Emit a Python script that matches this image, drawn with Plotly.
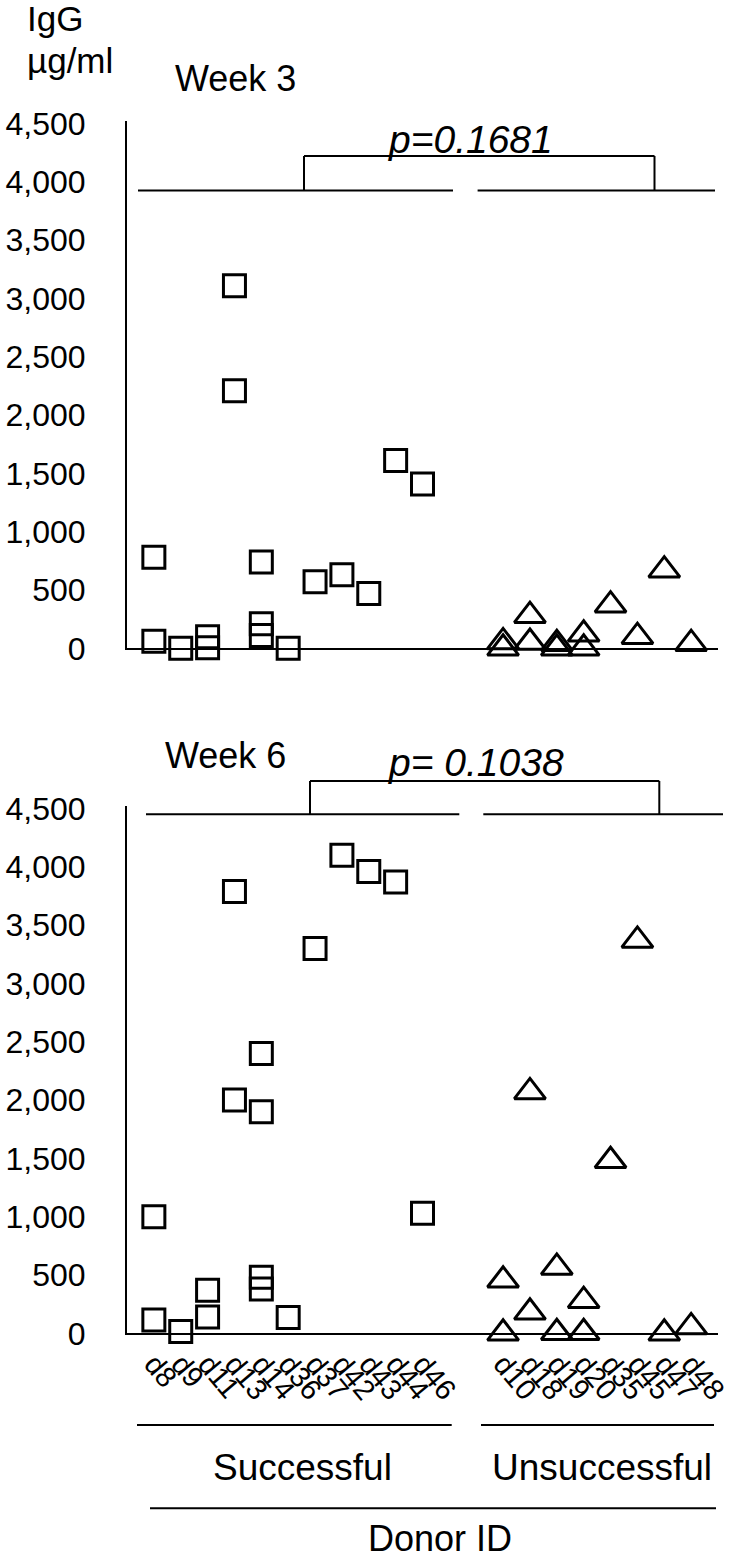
import plotly.graph_objects as go

# ---------------- data ----------------
succ_ids = ["d8", "d9", "d11", "d13", "d14", "d36", "d37", "d42", "d43", "d44", "d46"]
unsucc_ids = ["d10", "d18", "d19", "d20", "d35", "d45", "d47", "d48"]
gap_cats = [" ", "  "]

w3_succ_donor = ["d8", "d8", "d9", "d11", "d11", "d13", "d13", "d14", "d14", "d14",
                 "d36", "d37", "d42", "d43", "d44", "d46"]
w3_succ_val = [780, 60, 0, 100, 5, 3110, 2210, 740, 210, 110, 0, 570, 630, 470, 1610, 1410]

w3_uns_donor = ["d10", "d10", "d18", "d18", "d19", "d19", "d20", "d20", "d35", "d45", "d47", "d48"]
w3_uns_val = [55, 0, 280, 50, 40, 0, 120, 0, 370, 100, 670, 40]

w6_succ_donor = ["d8", "d8", "d9", "d11", "d11", "d13", "d13", "d14", "d14", "d14", "d14",
                 "d36", "d37", "d42", "d43", "d44", "d46"]
w6_succ_val = [1000, 115, 15, 370, 140, 3790, 2000, 2400, 1900, 480, 380,
               135, 3300, 4100, 3960, 3870, 1030]

w6_uns_donor = ["d10", "d10", "d18", "d18", "d19", "d19", "d20", "d20", "d35", "d45", "d47", "d48"]
w6_uns_val = [455, 0, 2070, 180, 565, 5, 280, 5, 1480, 3370, 0, 55]

y_ticks = [0, 500, 1000, 1500, 2000, 2500, 3000, 3500, 4000, 4500]
p_week3 = "p=0.1681"
p_week6 = "p= 0.1038"

# ---------------- layout helpers ----------------
W, H = 734, 1561
PLOT_L, PLOT_R = 127, 718   # page pixels of the plotting area
ML = PLOT_L
MR = W - PLOT_R
MT, MB = 0, 0
PW = W - ML - MR
FONT = "Liberation Sans, Arial, sans-serif"


def fx(px):
    return (px - ML) / PW


def fy(py):
    return 1 - py / H


categories = succ_ids + gap_cats + unsucc_ids
label_ids = succ_ids + unsucc_ids

sq = dict(symbol="square", size=22, color="rgba(0,0,0,0)", line=dict(color="black", width=3))
tri = dict(symbol="triangle-up", size=27, color="rgba(0,0,0,0)", line=dict(color="black", width=3))

fig = go.Figure()
fig.add_trace(go.Scatter(x=w3_succ_donor, y=w3_succ_val, mode="markers", marker=sq,
                         xaxis="x", yaxis="y", cliponaxis=False, showlegend=False))
fig.add_trace(go.Scatter(x=w3_uns_donor, y=w3_uns_val, mode="markers", marker=tri,
                         xaxis="x", yaxis="y", cliponaxis=False, showlegend=False))
fig.add_trace(go.Scatter(x=w6_succ_donor, y=w6_succ_val, mode="markers", marker=sq,
                         xaxis="x2", yaxis="y2", cliponaxis=False, showlegend=False))
fig.add_trace(go.Scatter(x=w6_uns_donor, y=w6_uns_val, mode="markers", marker=tri,
                         xaxis="x2", yaxis="y2", cliponaxis=False, showlegend=False))

xcommon = dict(type="category", categoryorder="array", categoryarray=categories,
               range=[-1, 21], showline=True, linecolor="black", linewidth=2,
               showgrid=False, zeroline=False, ticks="", fixedrange=True,
               tickmode="array", tickvals=label_ids, ticktext=label_ids,
               automargin=False)
ycommon = dict(range=[0, 4520], tickvals=y_ticks, tickformat=",", showline=True,
               linecolor="black", linewidth=2, showgrid=False, zeroline=False,
               ticks="", tickfont=dict(family=FONT, size=32, color="black"),
               ticklabelstandoff=33, fixedrange=True, automargin=False)

fig.update_layout(
    width=W, height=H, autosize=False,
    margin=dict(l=ML, r=MR, t=MT, b=MB, pad=0, autoexpand=False),
    paper_bgcolor="white", plot_bgcolor="white",
    font=dict(family=FONT, color="black"),
    xaxis=dict(**xcommon, anchor="y", domain=[0, 1], showticklabels=False),
    yaxis=dict(**ycommon, anchor="x", domain=[fy(648.3), fy(121.3)]),
    xaxis2=dict(**xcommon, anchor="y2", domain=[0, 1], showticklabels=True, tickangle=50,
                tickfont=dict(family=FONT, size=29, color="black")),
    yaxis2=dict(**ycommon, anchor="x2", domain=[fy(1333.3), fy(806.3)]),
)

shapes = []


def line(x0, y0, x1, y1, w=2):
    shapes.append(dict(type="line", xref="paper", yref="paper",
                       x0=fx(x0), y0=fy(y0), x1=fx(x1), y1=fy(y1),
                       line=dict(color="black", width=w)))


# Week 3 group lines and bracket
line(138, 190.5, 453, 190.5)
line(477.6, 190.5, 715, 190.5)
line(304, 190.5, 304, 156)
line(304, 156, 654.5, 156)
line(654.5, 156, 654.5, 190.5)
# Week 6 group lines and bracket
line(146, 814.3, 459.3, 814.3)
line(483.3, 814.3, 723, 814.3)
line(310, 814.3, 310, 781)
line(310, 781, 659.3, 781)
line(659.3, 781, 659.3, 814.3)
# group underlines
line(137, 1425, 451.7, 1425)
line(481, 1425, 714, 1425)
line(150, 1508.3, 716, 1508.3)
fig.update_layout(shapes=shapes)


def ann(text, px, py, size, xanchor="center", italic=False):
    return dict(text=("<i>%s</i>" % text) if italic else text, xref="paper", yref="paper",
                x=fx(px), y=fy(py), xanchor=xanchor, yanchor="middle", showarrow=False,
                font=dict(family=FONT, size=size, color="black"))


fig.update_layout(annotations=[
    ann("IgG", 25, 19, 35, "left"),
    ann("µg/ml", 25, 60, 35, "left"),
    ann("Week 3", 173, 79, 36, "left"),
    ann("Week 6", 163, 755, 36, "left"),
    ann(p_week3, 470, 139, 39, italic=True),
    ann(p_week6, 476, 762, 39, italic=True),
    ann("Successful", 302.5, 1467, 37),
    ann("Unsuccessful", 601.5, 1467, 37),
    ann("Donor ID", 440, 1538, 36),
])

# pin the figure to the page's top-left corner (no default body margin)
post_js = (
    "document.documentElement.style.margin='0';"
    "document.body.style.margin='0';document.body.style.padding='0';"
    "var gd=document.getElementById('{plot_id}');"
    "gd.style.position='absolute';gd.style.left='0px';gd.style.top='0px';"
)

fig.write_html("out.html", post_script=post_js, config={"displayModeBar": False})
